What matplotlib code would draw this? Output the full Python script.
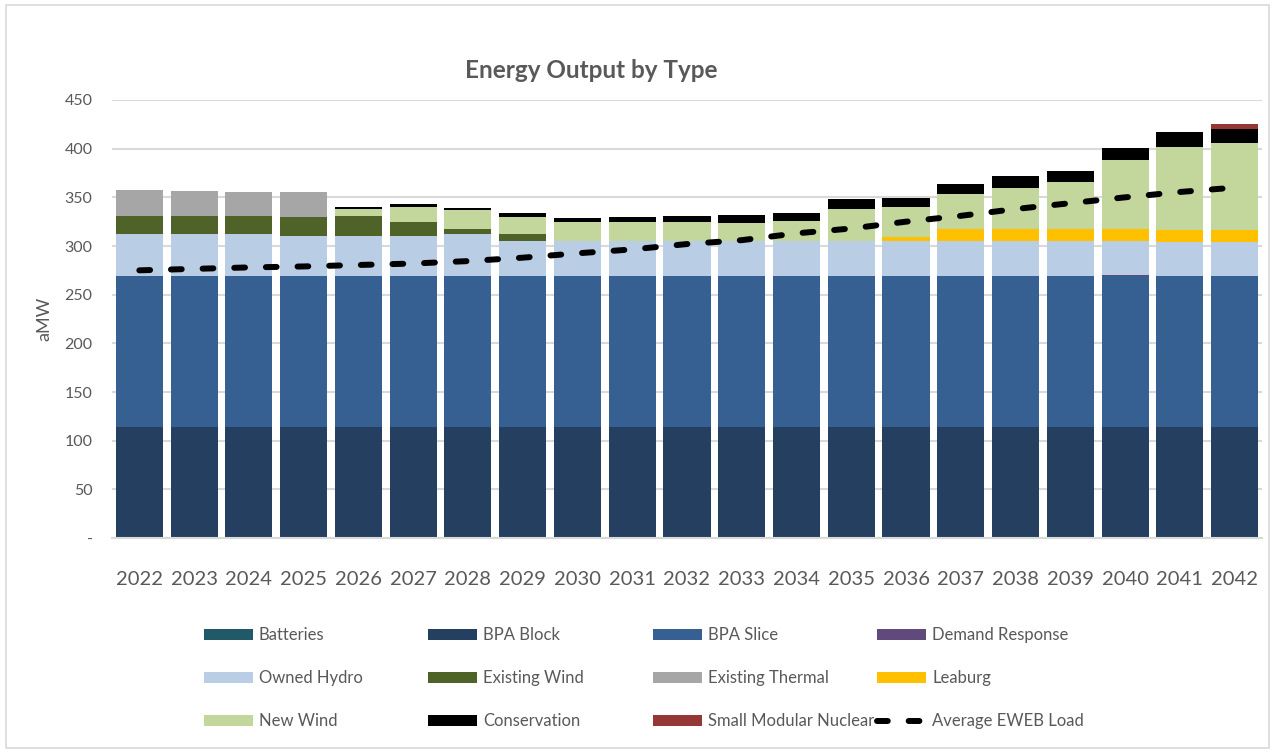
import numpy as np
import matplotlib.pyplot as plt
from matplotlib.patches import Patch, Rectangle
from matplotlib.lines import Line2D

plt.rcParams['font.family'] = ['Lato', 'DejaVu Sans']

years = [str(y) for y in range(2022, 2043)]

# aMW by resource (stack order bottom -> top)
batteries = [0] * 21
bpa_block = [114] * 21
bpa_slice = [155] * 21
demand_response = [0] * 18 + [1.5, 0, 0]
owned_hydro = [43, 43, 43, 41.5, 41.5, 41.5, 43, 36.5, 36.5, 36.5, 36.5, 36.5,
               36.5, 36.5, 36.5, 36.5, 36.5, 36.5, 35, 35, 35]
existing_wind = [19, 19, 19, 19.5, 20.5, 14.5, 5, 6.5] + [0] * 13
existing_thermal = [27, 25.5, 24, 25] + [0] * 17
leaburg = [0] * 14 + [3.5, 11.5, 11.5, 11.5, 11.5, 12, 12]
new_wind = [0, 0, 0, 0, 7, 15, 19.5, 17.5, 19, 19, 19, 18, 20.5, 33, 31.5,
            36.5, 43, 49, 71, 86, 89.5]
conservation = [0, 0, 0, 0, 2, 3, 2.5, 4, 3.8, 5.3, 6.8, 8.2, 7.6, 9.3, 9,
                10.4, 11.7, 11.2, 12.6, 15, 14.7]
small_nuclear = [0] * 20 + [5.5]
avg_load = [275, 276.5, 278, 279, 280.5, 282, 284.5, 288, 292.5, 296.5, 302,
            306, 313, 318, 325, 331, 338, 344, 350, 355.5, 360]

series = [
    ('Batteries', batteries, '#215968'),
    ('BPA Block', bpa_block, '#243f60'),
    ('BPA Slice', bpa_slice, '#376092'),
    ('Demand Response', demand_response, '#604a7b'),
    ('Owned Hydro', owned_hydro, '#b9cde5'),
    ('Existing Wind', existing_wind, '#4f6228'),
    ('Existing Thermal', existing_thermal, '#a6a6a6'),
    ('Leaburg', leaburg, '#ffc000'),
    ('New Wind', new_wind, '#c3d69b'),
    ('Conservation', conservation, '#000000'),
    ('Small Modular Nuclear', small_nuclear, '#953735'),
]

txt = '#595959'
grid = '#d9d9d9'

fig = plt.figure(figsize=(12.75, 7.53), dpi=100)
ax = fig.add_axes([0.0878, 0.2855, 0.902, 0.5817])

x = np.arange(len(years))
bottom = np.zeros(len(years))
for name, vals, col in series:
    vals = np.array(vals, dtype=float)
    ax.bar(x, vals, bottom=bottom, width=0.86, color=col, zorder=2)
    bottom += vals

ax.plot(x, avg_load, color='black', lw=4.3, dashes=(1.8, 3.5),
        dash_capstyle='round', zorder=3)

ax.set_xlim(-0.5, len(years) - 0.5)
ax.set_ylim(0, 450)
ax.set_yticks(range(0, 451, 50))
ax.set_yticklabels(['-'] + [str(v) for v in range(50, 451, 50)])
ax.set_xticks(x)
ax.set_xticklabels(years)
ax.tick_params(axis='y', length=0, pad=14, labelsize=11.5, labelcolor=txt)
ax.tick_params(axis='x', length=0, pad=24, labelsize=14.5, labelcolor=txt)
ax.grid(axis='y', color=grid, lw=1.5, zorder=0)
for s in ['top', 'right', 'left']:
    ax.spines[s].set_visible(False)
ax.spines['bottom'].set_color(grid)
ax.spines['bottom'].set_linewidth(1.5)

ax.set_ylabel('aMW', fontsize=13, color=txt, labelpad=9)
fig.text(0.4634, 0.907, 'Energy Output by Type', fontsize=17.5, fontweight='bold',
         color=txt, ha='center', va='center')

# legend: uniform column pitch like the spreadsheet
handles = [Patch(facecolor=c, label=n) for n, _, c in series]
handles.append(Line2D([0], [0], color='black', lw=4.3, dashes=(1.8, 3.5),
                      dash_capstyle='round', label='Average EWEB Load'))
col_x = [0.160, 0.3359, 0.5119, 0.688]
for j in range(4):
    items = handles[j::4]
    fig.legend(handles=items, loc='center left', bbox_to_anchor=(col_x[j], 0.0992),
               frameon=False, fontsize=12, labelcolor=txt, handlelength=2.93,
               handleheight=0.66, handletextpad=0.36, labelspacing=1.62,
               borderaxespad=0, borderpad=0)

fig.add_artist(Rectangle((0.005, 0.006), 0.99, 0.988, transform=fig.transFigure,
                         fill=False, edgecolor=grid, lw=1.2))

fig.savefig('out.png', dpi=100)
